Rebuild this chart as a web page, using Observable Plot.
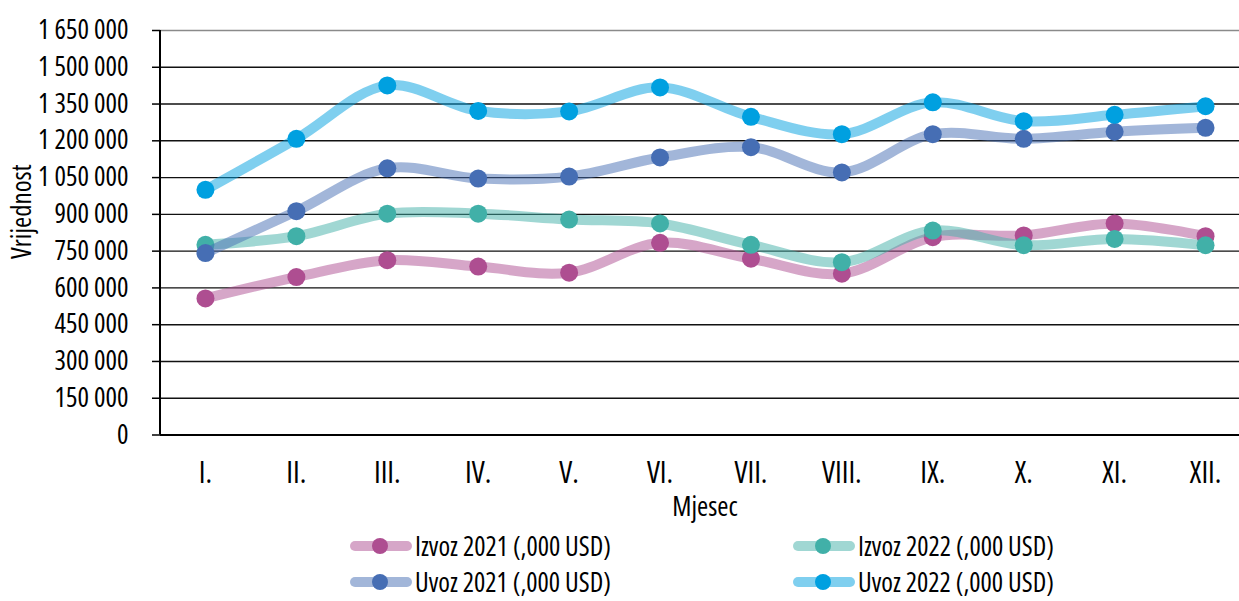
<!DOCTYPE html>
<html><head><meta charset="utf-8">
<script src="https://cdn.jsdelivr.net/npm/d3@7"></script>
<script src="https://cdn.jsdelivr.net/npm/@observablehq/plot@0.6"></script>
<style>
body{margin:0;background:#fff;font-family:"Open Sans",sans-serif;font-stretch:condensed;}
#wrap{position:relative;width:1239px;height:601px;overflow:hidden}
#chart svg{display:block;font-stretch:condensed}
.leg{position:absolute;display:flex;align-items:center;font-size:26.5px;line-height:1;color:#000;height:28px;white-space:nowrap;font-stretch:condensed}
.sw{position:relative;width:62px;height:28px;margin-right:3px;flex:none}
.sw .ln{position:absolute;left:0;right:0;top:9px;height:10px;border-radius:5px;opacity:.5}
.sw .dt{position:absolute;left:22px;top:6px;width:16px;height:16px;border-radius:50%}
</style></head>
<body>
<div id="wrap"><div id="chart"></div><div id="legend"></div></div>
<script>
const months = ["I.","II.","III.","IV.","V.","VI.","VII.","VIII.","IX.","X.","XI.","XII."];
const izvoz2021 = [557000, 644000, 713000, 687000, 662000, 784000, 719000, 658000, 807000, 814000, 863000, 811000];
const izvoz2022 = [776000, 811000, 903000, 903000, 879000, 863000, 776000, 705000, 834000, 774000, 800000, 774000];
const uvoz2021  = [742000, 913000, 1088000, 1046000, 1054000, 1132000, 1174000, 1071000, 1227000, 1208000, 1237000, 1253000];
const uvoz2022  = [1000000, 1208000, 1426000, 1322000, 1320000, 1418000, 1298000, 1227000, 1357000, 1280000, 1306000, 1341000];
const seriesNames = ["Izvoz 2021 (,000 USD)", "Izvoz 2022 (,000 USD)", "Uvoz 2021 (,000 USD)", "Uvoz 2022 (,000 USD)"];
const seriesColors = ["#AE4E91", "#41B0A8", "#466EB4", "#00A0E0"];
const yTicks = [0, 150000, 300000, 450000, 600000, 750000, 900000, 1050000, 1200000, 1350000, 1500000, 1650000];
const xLabel = "Mjesec";
const yLabel = "Vrijednost";

const seriesValues = [izvoz2021, izvoz2022, uvoz2021, uvoz2022];
const series = seriesNames.map((name, k) => ({
  name, color: seriesColors[k],
  rows: months.map((m, i) => ({i, month: m, value: seriesValues[k][i]}))
}));
const fmt = v => d3.format(",")(v).replace(/,/g, " ");

const seriesMarks = series.flatMap(s => [
  Plot.line(s.rows, {x: "i", y: "value", stroke: s.color, strokeOpacity: 0.5, strokeWidth: 10, curve: "catmull-rom"}),
  Plot.dot(s.rows, {x: "i", y: "value", fill: s.color, r: 9})
]);

const chart = Plot.plot({
  width: 1239,
  height: 525,
  marginTop: 30,
  marginBottom: 90.5,
  marginLeft: 160,
  marginRight: 0,
  style: {fontFamily: '"Open Sans",sans-serif', fontSize: "27px", color: "#000", background: "#fff"},
  x: {type: "linear", domain: [-0.5, 11.5], range: [159.5, 1250.5], axis: null},
  y: {domain: [0, 1650000], axis: null},
  marks: [
    Plot.ruleY(yTicks.filter(t => t > 0 && t < 1650000), {stroke: "#111", strokeWidth: 1.4}),
    Plot.ruleY([1650000], {stroke: "#8a8a8a", strokeWidth: 1.4}),
    Plot.ruleY([0], {stroke: "#000", strokeWidth: 2}),
    Plot.ruleX([-0.5], {stroke: "#000", strokeWidth: 2}),
    Plot.axisY({ticks: yTicks, tickFormat: fmt, tickSize: 8, tickPadding: 24, fontSize: 27, stroke: "#000", strokeWidth: 1.5, label: null}),
    Plot.axisX({ticks: d3.range(12), tickFormat: i => months[i], tickSize: 0, tickPadding: 27, fontSize: 30, label: null}),
    Plot.text([xLabel], {frameAnchor: "bottom", text: d => d, dx: 5, dy: 72, fontSize: 27, lineAnchor: "middle"}),
    Plot.text([yLabel], {frameAnchor: "left", text: d => d, rotate: -90, textAnchor: "middle", dx: -138, dy: -21, fontSize: 27, lineAnchor: "middle"}),
    ...seriesMarks
  ]
});
document.getElementById("chart").appendChild(chart);

const legendPos = [[350, 532], [793, 532], [350, 568], [793, 568]];
const legend = document.getElementById("legend");
series.forEach((s, k) => {
  const d = document.createElement("div");
  d.className = "leg";
  d.style.left = legendPos[k][0] + "px";
  d.style.top = legendPos[k][1] + "px";
  d.innerHTML = `<span class="sw"><span class="ln" style="background:${s.color}"></span><span class="dt" style="background:${s.color}"></span></span><span>${s.name}</span>`;
  legend.appendChild(d);
});
</script>
</body></html>
